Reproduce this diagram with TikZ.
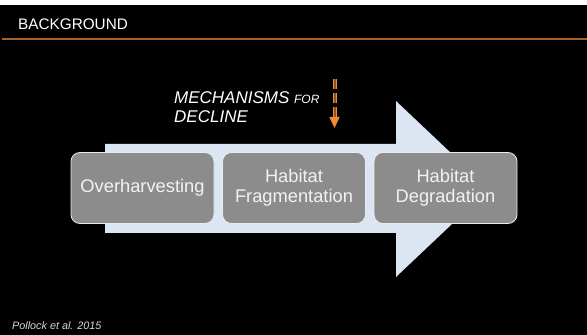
\documentclass[tikz,border=0pt]{standalone}
\usepackage{fontspec}
\setmainfont{Liberation Sans}
\usetikzlibrary{arrows.meta}
\definecolor{arrowblue}{RGB}{220,230,242}
\definecolor{boxgray}{RGB}{140,140,140}
\definecolor{boxtext}{RGB}{242,242,242}
\definecolor{rulebrown}{RGB}{166,98,40}
\definecolor{dashorange}{RGB}{240,140,50}
\definecolor{dashbrown}{RGB}{150,80,25}
\definecolor{citegray}{RGB}{217,217,217}
\tikzset{
  stepbox/.style={draw=white!85!gray, line width=0.8pt, fill=boxgray, rounded corners=9pt,
    minimum width=143pt, minimum height=71pt, inner sep=0pt, text=boxtext, align=center,
    font=\fontsize{18.3}{20}\selectfont},
  plaintext/.style={inner sep=0pt, anchor=base west}
}
\begin{document}
\begin{tikzpicture}[x=1pt,y=1pt]
\useasboundingbox (0,0) rectangle (587,335);
\fill[white] (0,330) rectangle (587,335);
\fill[black] (0,0) rectangle (587,330);
% title
\node[plaintext, text=white, font=\fontsize{15.3}{18}\selectfont] (title) at (18,305.7) {BACKGROUND};
\coordinate (ruleL) at (2,296);
\coordinate (ruleR) at (587,296);
\draw[rulebrown, line width=1.5pt] (ruleL) -- (ruleR);
% big arrow
\fill[arrowblue] (105,191) -- (396,191) -- (396,234) -- (489,146) -- (396,58) -- (396,102) -- (105,102) -- cycle;
% label
\node[plaintext, text=white, font=\fontsize{17}{19}\itshape] (mech) at (174,231) {MECHANISMS {\fontsize{12}{14}\selectfont FOR}};
\node[plaintext, text=white, font=\fontsize{17}{19}\itshape] (decl) at (174,212) {DECLINE};
% dashed arrow
\coordinate (dtop) at (334.5,256);
\coordinate (dbot) at (334.5,217);
\coordinate (dtip) at (334.5,207);
\draw[dashorange, line width=4pt, dash pattern=on 10pt off 4pt] (dtop) -- (dbot);
\draw[dashbrown, line width=2pt, dash pattern=on 10pt off 4pt] (dtop) -- (dbot);
\fill[dashorange] (329.3,218) -- (339.7,218) -- (dtip) -- cycle;
% boxes
\node[stepbox] (b1) at (142.5,147) {Overharvesting};
\node[stepbox] (b2) at (294,147) {Habitat\\Fragmentation};
\node[stepbox] (b3) at (445.5,147) {Habitat\\Degradation};
% citation
\node[plaintext, text=citegray, font=\fontsize{10.8}{13}\itshape] (cite) at (12,5.7) {Pollock et al. 2015};
\end{tikzpicture}
\end{document}
